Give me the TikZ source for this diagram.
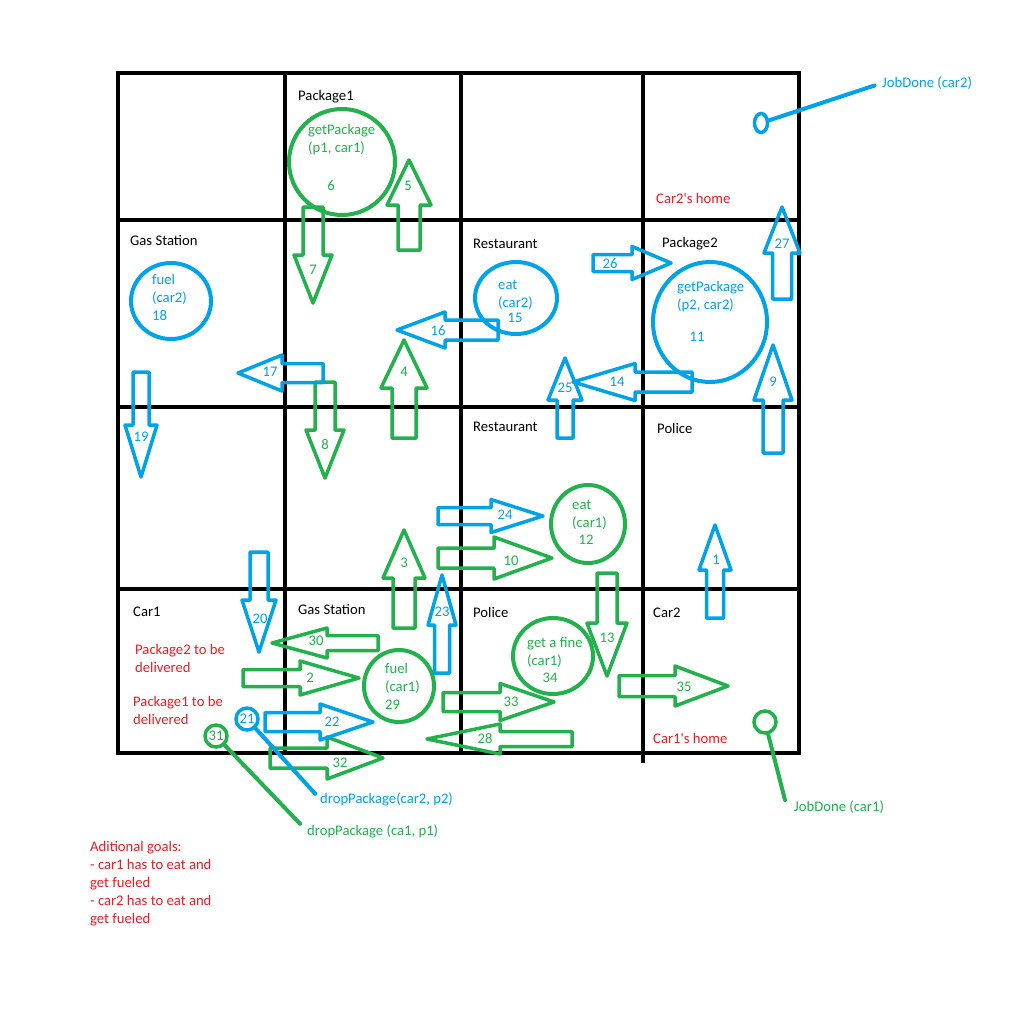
\documentclass[tikz,border=0pt]{standalone}
\usepackage{fontspec}
\setmainfont{Carlito}
\usetikzlibrary{shapes.geometric}

\definecolor{pgreen}{RGB}{34,177,76}
\definecolor{pblue}{RGB}{0,162,232}
\definecolor{pred}{RGB}{237,28,36}

% style, tail, angle, length, shaft half width, head half width, head length
\newcommand{\blockarrow}[7]{%
  \draw[#1,shift={(#2)},rotate=#3] (0,-#5) -- (#4-#7,-#5) -- (#4-#7,-#6) -- (#4,0)
    -- (#4-#7,#6) -- (#4-#7,#5) -- (0,#5) -- cycle;}

\begin{document}
\begin{tikzpicture}[x=1pt,y=-1pt,
every node/.style={font=\fontsize{14.67}{18}\selectfont, inner sep=0pt},
grid/.style={line width=4pt},
garrow/.style={line width=3.5pt, pgreen, line join=round},
barrow/.style={line width=3.5pt, pblue, line join=round},
ring/.style={line width=4pt},
smallring/.style={circle, line width=3.5pt, minimum size=22pt},
stick/.style={line width=4pt, line cap=round},
place/.style={anchor=west},
note/.style={anchor=west, align=left, text=pred}]

\fill[white] (0,0) rectangle (1024,1010);
\useasboundingbox (0,0) rectangle (1024,1010);

% the map
\draw[grid] (118,73) rectangle (799,753);
\foreach \y in {220,407,589}
    \draw[grid] (118,\y) -- (799,\y);
\foreach \x in {285,461}
    \draw[grid] (\x,73) -- (\x,753);
\draw[grid] (643,73) -- (643,763);

\node[place] (pack1) at (298,97) {Package1};
\node[place] (gas1) at (130,240) {Gas Station};
\node[place] (rest1) at (473,244) {Restaurant};
\node[place] (pack2) at (662,244) {Package2};
\node[place] (rest2) at (473,427) {Restaurant};
\node[place] (police1) at (657,428) {Police};
\node[place] (car1) at (133,612) {Car1};
\node[place] (gas2) at (298,609) {Gas Station};
\node[place] (police2) at (473,612) {Police};
\node[place] (car2) at (653,613) {Car2};

\node[note] (home2) at (656,198) {Car2\textquotesingle s home};
\node[note] (home1) at (653,738) {Car1\textquotesingle s home};
\node[note] (todo2) at (135,658) {Package2 to be\\delivered};
\node[note] (todo1) at (133,710) {Package1 to be\\delivered};
\node[note] (goals) at (90,884) {Aditional goals:\\- car1 has to eat and\\get fueled\\- car2 has to eat and\\get fueled};

% car1 (green)
\begin{scope}[every node/.append style={text=pgreen}]
    \draw[ring,pgreen] (342,162) circle (53);
    \node[anchor=west,align=left] (getp1) at (308,140) {getPackage\\(p1, car1)};
    \node (n6) at (331,186) {6};
    \draw[ring,pgreen] (399,686) ellipse (35 and 36);
    \node[anchor=west,align=left] (fuel1) at (385,678) {fuel\\(car1)};
    \node[anchor=west] (n29) at (385,705) {29};
    \draw[ring,pgreen] (588,524) ellipse (37 and 39);
    \node[anchor=west,align=left] (eat1) at (572,515) {eat\\(car1)};
    \node (n12) at (586,540) {12};
    \draw[ring,pgreen] (553,656) ellipse (40 and 38);
    \node[anchor=west,align=left] (fine1) at (527,652) {get a fine\\(car1)};
    \node (n34) at (550,678) {34};

    \blockarrow{garrow}{243,678}{0}{116}{8.5}{17}{59}
    \node (n2) at (310,678) {2};
    \blockarrow{garrow}{404,628}{90}{98}{11}{21}{48}
    \node (n3) at (404,563) {3};
    \blockarrow{garrow}{404,438}{90}{98}{12}{23}{48}
    \node (n4) at (404,372) {4};
    \blockarrow{garrow}{409,250}{90}{90}{11}{22}{45}
    \node (n5) at (408,186) {5};
    \blockarrow{garrow}{313,207}{-90}{96}{10}{19}{48}
    \node (n7) at (313,270) {7};
    \blockarrow{garrow}{325,382}{-90}{96}{10}{19}{48}
    \node (n8) at (325,445) {8};
    \blockarrow{garrow}{438,558}{0}{114}{10}{21}{58}
    \node (n10) at (511,561) {10};
    \blockarrow{garrow}{607,573}{-90}{103}{10}{20}{53}
    \node (n13) at (607,638) {13};
    \blockarrow{garrow}{572,739}{180}{145}{7.5}{15}{73}
    \node (n28) at (485,739) {28};
    \blockarrow{garrow}{378,643}{180}{106}{7.5}{15}{55}
    \node (n30) at (316,641) {30};
    \blockarrow{garrow}{270,758}{0}{113}{10}{21}{56}
    \node (n32) at (340,763) {32};
    \blockarrow{garrow}{443,702}{0}{111}{9.5}{18.5}{54}
    \node (n33) at (511,702) {33};
    \blockarrow{garrow}{619,686}{0}{109}{10.5}{20}{53}
    \node (n35) at (684,687) {35};

    \node[smallring,draw=pgreen] (drop31) at (216,736) {31};
    \node[anchor=west] (drop1) at (307,831) {dropPackage (ca1, p1)};
    \draw[stick,pgreen,shorten >=10pt] (drop31) -- (drop1.west);

    \node[smallring,draw=pgreen] (done1) at (765,722) {};
    \node[anchor=west] (job1) at (794,807) {JobDone (car1)};
    \coordinate (job1end) at (785,800);
    \draw[stick,pgreen] (done1) -- (job1end);
\end{scope}

% car2 (blue)
\begin{scope}[every node/.append style={text=pblue}]
    \draw[ring,pblue] (171,301) ellipse (40 and 38);
    \node[anchor=west,align=left] (fuel2) at (152,289) {fuel\\(car2)};
    \node[anchor=west] (n18) at (152,316) {18};
    \draw[ring,pblue] (516,298) ellipse (41 and 36);
    \node[anchor=west,align=left] (eat2) at (498,295) {eat\\(car2)};
    \node (n15) at (515,318) {15};
    \draw[ring,pblue] (710,322) ellipse (57 and 60);
    \node[anchor=west,align=left] (getp2) at (677,297) {getPackage\\(p2, car2)};
    \node (n11) at (697,337) {11};

    \blockarrow{barrow}{715,618}{90}{93}{8.5}{16}{45}
    \node (n1) at (716,560) {1};
    \blockarrow{barrow}{773,453}{90}{108}{10}{19}{55}
    \node (n9) at (773,382) {9};
    \blockarrow{barrow}{692,382}{180}{119}{10}{18.5}{62}
    \node (n14) at (617,382) {14};
    \blockarrow{barrow}{498,330}{180}{101}{10}{18}{48}
    \node (n16) at (438,331) {16};
    \blockarrow{barrow}{323,373}{180}{85}{9.5}{18}{44}
    \node (n17) at (270,372) {17};
    \blockarrow{barrow}{141,372}{-90}{105}{8}{16}{52}
    \node (n19) at (141,437) {19};
    \blockarrow{barrow}{259,552}{-90}{100}{9}{17}{52}
    \node (n20) at (260,619) {20};
    \blockarrow{barrow}{265,722}{0}{108}{9.5}{18}{53}
    \node (n22) at (332,722) {22};
    \blockarrow{barrow}{442,673}{90}{98}{7.5}{14}{50}
    \node (n23) at (442,612) {23};
    \blockarrow{barrow}{438,516}{0}{105}{8.5}{16.5}{52}
    \node (n24) at (505,515) {24};
    \blockarrow{barrow}{565,438}{90}{80}{8}{17}{42}
    \node (n25) at (565,388) {25};
    \blockarrow{barrow}{593,263}{0}{78}{8.5}{16.5}{39}
    \node (n26) at (610,264) {26};
    \blockarrow{barrow}{782,299}{90}{92}{9.5}{18}{46}
    \node (n27) at (782,244) {27};

    \node[smallring,draw=pblue] (drop21) at (247,719) {21};
    \node[anchor=west] (drop2) at (320,799) {dropPackage(car2, p2)};
    \draw[stick,pblue,shorten >=7pt] (drop21) -- (drop2.west);

    \node[ellipse,draw=pblue,line width=3.5pt,minimum width=13pt,minimum height=19pt] (done2) at (761,123) {};
    \node[anchor=west] (job2) at (882,83) {JobDone (car2)};
    \draw[stick,pblue,shorten >=8pt] (done2) -- (job2.west);
\end{scope}

\end{tikzpicture}
\end{document}
